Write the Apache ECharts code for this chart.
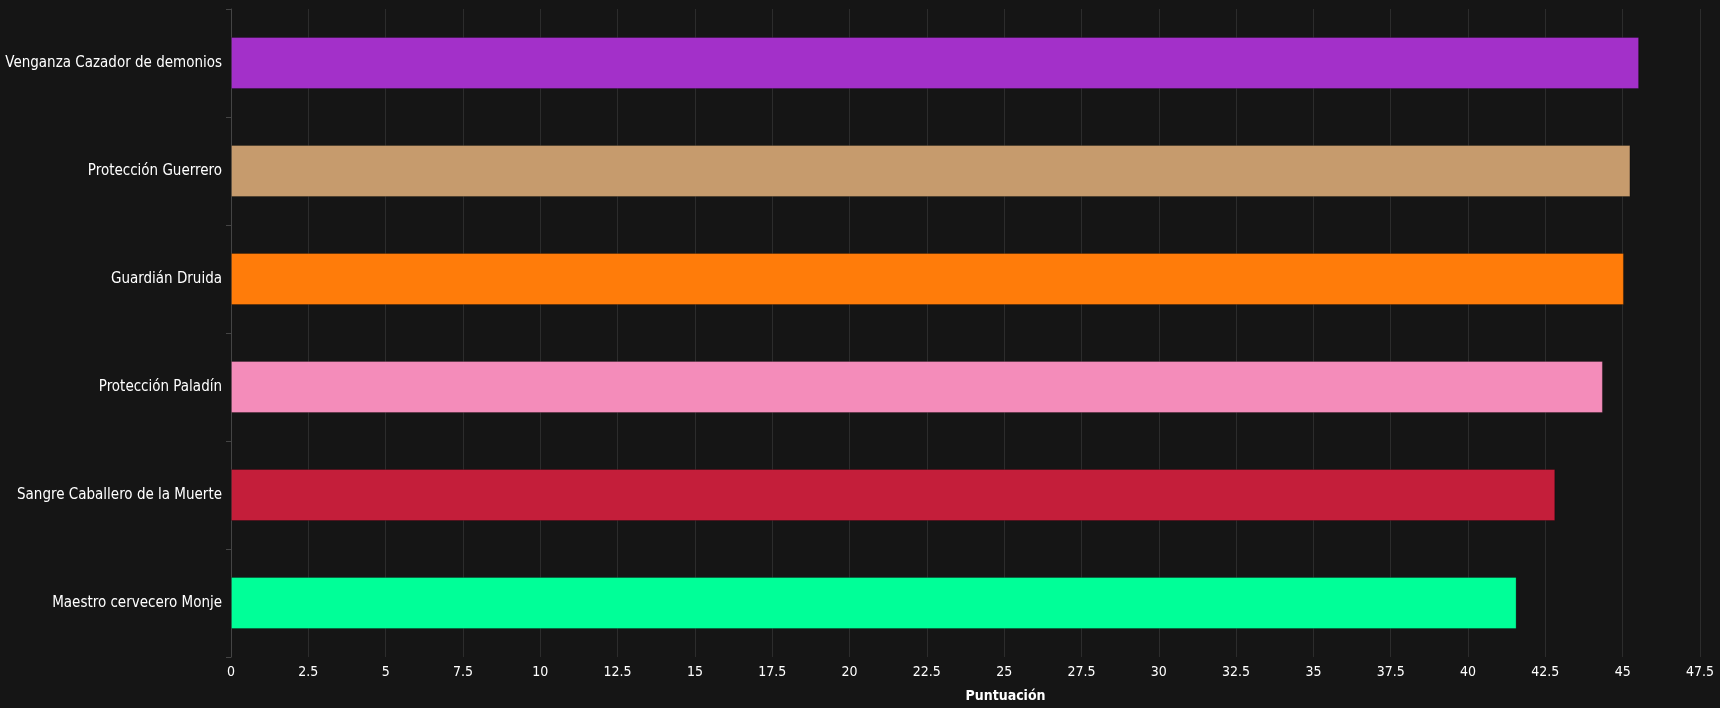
<!DOCTYPE html>
<html>
<head>
<meta charset="utf-8">
<style>
html,body{margin:0;padding:0;background:#151515;}
#c{width:1720px;height:708px;}
</style>
<script src="https://cdn.jsdelivr.net/npm/echarts@6/dist/echarts.min.js"></script>
</head>
<body>
<div id="c"></div>
<script>
const categories = ["Venganza Cazador de demonios","Protección Guerrero","Guardián Druida","Protección Paladín","Sangre Caballero de la Muerte","Maestro cervecero Monje"];
const values = [45.53, 45.25, 45.04, 44.36, 42.82, 41.57];
const colors = ["#A330C9","#C69B6D","#FF7C0A","#F48CBA","#C41E3A","#00FF98"];
const axisTitle = "Puntuación";

const chart = echarts.init(document.getElementById('c'), null, {renderer:'canvas'});
const font = "'DejaVu Sans Condensed', 'Liberation Sans Narrow', sans-serif";
chart.setOption({
  backgroundColor: '#151515',
  animation: false,
  grid: {left: 231, right: 20, top: 9, bottom: 51, containLabel: false},
  xAxis: {
    type: 'value', min: 0, max: 47.5, interval: 2.5,
    name: axisTitle, nameLocation: 'middle', nameGap: 32,
    nameTextStyle: {color: '#ffffff', fontSize: 14, fontWeight: 'bold', fontFamily: font, padding: [0,0,0,80]},
    axisLine: {show: false}, axisTick: {show: false},
    axisLabel: {color: '#ffffff', fontSize: 14, fontFamily: font, margin: 8},
    splitLine: {show: true, lineStyle: {color: '#2c2c2c', width: 1}}
  },
  yAxis: {
    type: 'category', data: categories, inverse: true,
    axisLine: {show: true, lineStyle: {color: '#444444'}},
    axisTick: {show: true, length: 5, lineStyle: {color: '#444444'}},
    axisLabel: {color: '#ffffff', fontSize: 15, fontFamily: font, margin: 9},
    splitLine: {show: false}
  },
  series: [{
    type: 'bar', barWidth: 52,
    data: values.map((v,i)=>({value:v, itemStyle:{color: colors[i]}})),
    itemStyle: {borderColor: 'rgba(0,0,0,0.25)', borderWidth: 1}
  }]
});
</script>
</body>
</html>
